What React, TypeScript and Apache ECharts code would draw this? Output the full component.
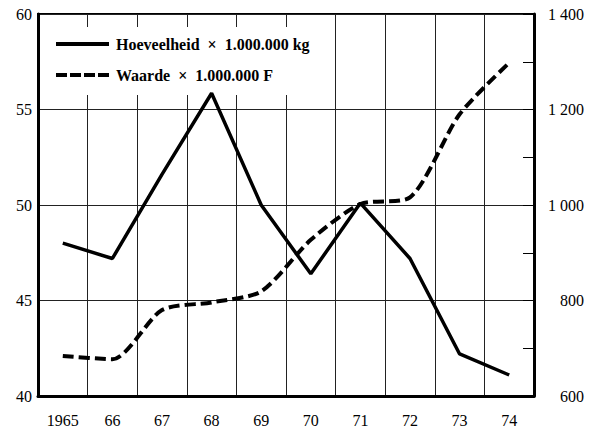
import React, { useEffect, useRef } from "react";
import * as echarts from "echarts";

const years = ["1965", "66", "67", "68", "69", "70", "71", "72", "73", "74"];
const hoeveelheid = [48.0, 47.2, 51.6, 55.85, 50.0, 46.4, 50.1, 47.2, 42.2, 41.1];
const waarde = [684, 677, 780, 796, 819, 927, 1002, 1016, 1190, 1298];
const seriesNames = ["Hoeveelheid \u00a0×\u00a0 1.000.000 kg", "Waarde \u00a0×\u00a0 1.000.000 F"];

export default function App() {
  const ref = useRef<HTMLDivElement>(null);
  useEffect(() => {
    const chart = echarts.init(ref.current!, null, { renderer: "svg" });
    const serif = "'Liberation Serif', 'DejaVu Serif', serif";
    chart.setOption({
      animation: false,
      backgroundColor: "#fff",
      grid: {
        left: 38,
        right: 64,
        top: 14,
        bottom: 38,
        show: true,
        borderColor: "#000",
        borderWidth: 2,
        backgroundColor: "transparent",
      },
      legend: {
        left: 42,
        top: 27,
        orient: "vertical",
        z: 1,
        backgroundColor: "#fff",
        padding: [9, 18, 12, 14],
        itemWidth: 53,
        itemHeight: 4,
        itemGap: 15,
        textStyle: { fontFamily: serif, fontWeight: "bold", fontSize: 16, color: "#000", padding: [0, 0, 0, 2] },
        data: [
          { name: seriesNames[0], icon: "rect" },
          {
            name: seriesNames[1],
            icon: "path://M0,0H11V4H0Z M14,0H25V4H14Z M28,0H39V4H28Z M42,0H53V4H42Z",
          },
        ],
      },
      xAxis: {
        type: "category",
        data: years,
        boundaryGap: true,
        axisLine: { show: true, lineStyle: { color: "#000", width: 3 } },
        axisTick: { show: false },
        axisLabel: { fontFamily: serif, fontSize: 16, color: "#000", margin: 16, interval: 0 },
        splitLine: { show: true, interval: 0, lineStyle: { color: "#222", width: 1 } },
      },
      yAxis: [
        {
          type: "value",
          min: 40,
          max: 60,
          interval: 5,
          position: "left",
          axisLine: { show: true, lineStyle: { color: "#000", width: 3 } },
          axisTick: { show: false },
          axisLabel: { fontFamily: serif, fontSize: 16, color: "#000", margin: 6 },
          splitLine: { show: true, lineStyle: { color: "#222", width: 1 } },
        },
        {
          type: "value",
          min: 600,
          max: 1400,
          interval: 100,
          position: "right",
          axisLine: { show: true, lineStyle: { color: "#000", width: 3 } },
          axisTick: { show: true, inside: true, length: 11, lineStyle: { color: "#000", width: 1 } },
          axisLabel: {
            fontFamily: serif,
            fontSize: 16,
            color: "#000",
            align: "right",
            margin: 50,
            formatter: (v: number) => {
              if (v % 200 !== 0) return "";
              if (v >= 1000) return `${Math.floor(v / 1000)} ${String(v % 1000).padStart(3, "0")}`;
              return String(v);
            },
          },
          splitLine: { show: false },
        },
      ],
      series: [
        {
          name: seriesNames[0],
          type: "line",
          yAxisIndex: 0,
          data: hoeveelheid,
          symbol: "none",
          z: 3,
          lineStyle: { color: "#000", width: 3.5, type: "solid" },
          itemStyle: { color: "#000" },
        },
        {
          name: seriesNames[1],
          type: "line",
          yAxisIndex: 1,
          data: waarde,
          symbol: "none",
          smooth: 0.25,
          z: 3,
          lineStyle: { color: "#000", width: 4, type: [11, 5] },
          itemStyle: { color: "#000" },
        },
      ],
    });
    return () => chart.dispose();
  }, []);
  return <div ref={ref} style={{ width: 598, height: 434, position: "absolute", left: 0, top: 0 }} />;
}
